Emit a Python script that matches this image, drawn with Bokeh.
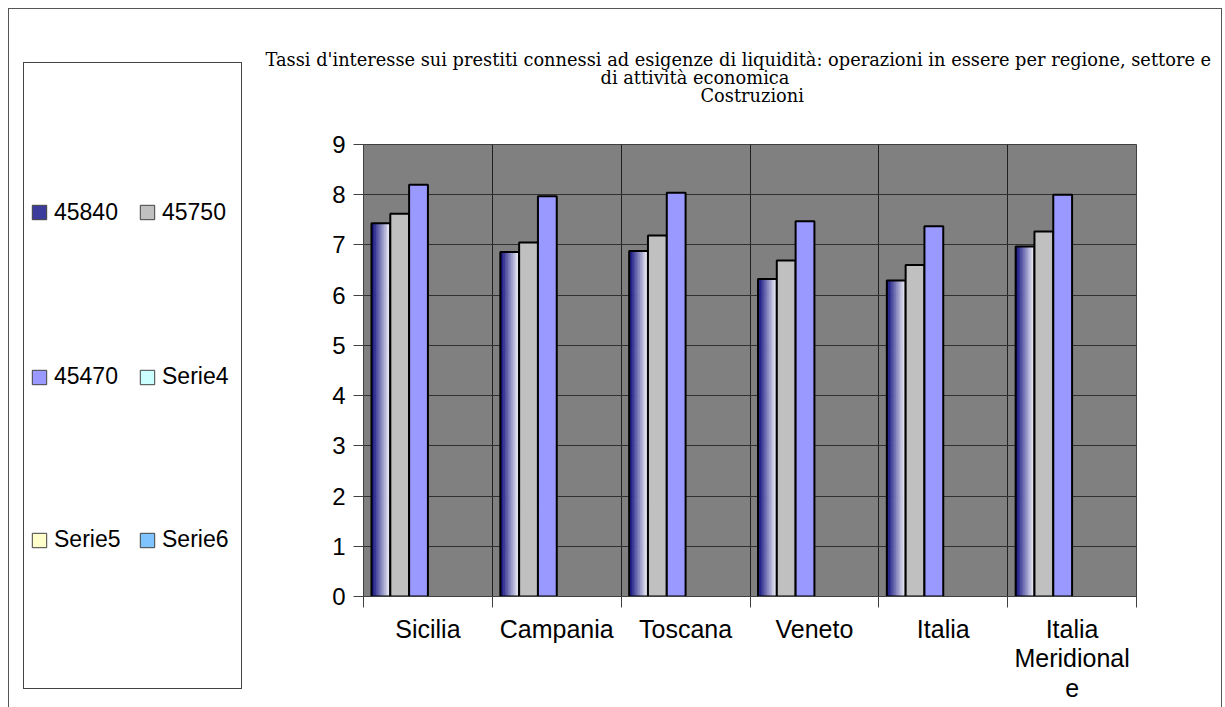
from bokeh.plotting import figure
from bokeh.layouts import row
from bokeh.models import (ColumnDataSource, Range1d, FixedTicker, Legend, LegendItem,
                          Title, InlineStyleSheet)
from bokeh.transform import dodge
from bokeh.embed import file_html
from bokeh.resources import INLINE

# ---- data ----
categories = ["Sicilia", "Campania", "Toscana", "Veneto", "Italia", "Italia Meridionale"]
tick_labels = ["Sicilia", "Campania", "Toscana", "Veneto", "Italia", "Italia\nMeridional\ne"]
series_names = ["45840", "45750", "45470", "Serie4", "Serie5", "Serie6"]
s_45840 = [7.43, 6.86, 6.88, 6.32, 6.29, 6.97]
s_45750 = [7.62, 7.05, 7.19, 6.69, 6.60, 7.27]
s_45470 = [8.20, 7.97, 8.04, 7.47, 7.37, 8.00]
y_ticks = [0, 1, 2, 3, 4, 5, 6, 7, 8, 9]
title_lines = ["Tassi  d'interesse sui prestiti connessi ad esigenze di liquidità: operazioni in essere per regione, settore e",
               "di attività economica",
               "Costruzioni"]

idx = list(range(len(categories)))
src = ColumnDataSource(dict(x=idx, s1=s_45840, s2=s_45750, s3=s_45470))

H = 707
LW = 250          # legend column width
PW = 1225 - LW    # plot width
FRAME_LEFT = 363


def no_align(fig):
    try:
        fig.frame_align = False
    except Exception:
        pass


p = figure(width=PW, height=H, output_backend="svg", toolbar_location=None,
           x_range=Range1d(-0.5, len(categories) - 0.5), y_range=Range1d(0, 9),
           min_border_left=FRAME_LEFT - LW, min_border_right=89, min_border_top=144, min_border_bottom=111)
no_align(p)
p.background_fill_color = "#808080"
p.border_fill_color = None
p.outline_line_color = "#404040"

bw = 0.146
offs = [-0.365, -0.219, -0.073]

# gradient first series (navy -> white strips)
n_strips = 12
c0 = (0x10, 0x10, 0x80)
c1 = (0xf0, 0xf0, 0xfa)
left = offs[0] - bw / 2
sw = bw / n_strips
for k in range(n_strips):
    t = k / (n_strips - 1)
    col = "#%02x%02x%02x" % tuple(int(a + (b - a) * t) for a, b in zip(c0, c1))
    p.vbar(x=dodge("x", left + (k + 0.5) * sw, range=p.x_range), top="s1", bottom=0,
           width=sw * 1.25, source=src, fill_color=col, line_color=None)
p.vbar(x=dodge("x", offs[0], range=p.x_range), top="s1", bottom=0, width=bw, source=src,
       fill_alpha=0, line_color="black", line_width=2)
p.vbar(x=dodge("x", offs[1], range=p.x_range), top="s2", bottom=0, width=bw, source=src,
       fill_color="#c0c0c0", line_color="black", line_width=2)
p.vbar(x=dodge("x", offs[2], range=p.x_range), top="s3", bottom=0, width=bw, source=src,
       fill_color="#9999ff", line_color="black", line_width=2)

# axes
p.yaxis.ticker = FixedTicker(ticks=y_ticks)
p.yaxis.major_tick_out = 10
p.yaxis.major_tick_in = 0
p.yaxis.minor_tick_line_color = None
p.yaxis.major_label_standoff = 8
p.yaxis.major_label_text_font = "Liberation Sans"
p.yaxis.major_label_text_font_size = "24px"
p.yaxis.major_label_text_color = "black"
p.yaxis.axis_line_color = "#404040"
p.yaxis.major_tick_line_color = "#404040"

bounds = [i - 0.5 for i in range(len(categories) + 1)]
p.xaxis.ticker = FixedTicker(ticks=idx, minor_ticks=bounds)
p.xaxis.major_label_overrides = {i: lab for i, lab in zip(idx, tick_labels)}
p.xaxis.major_tick_out = 0
p.xaxis.major_tick_in = 0
p.xaxis.major_tick_line_color = None
p.xaxis.minor_tick_out = 11
p.xaxis.minor_tick_in = 0
p.xaxis.minor_tick_line_color = "#404040"
p.xaxis.major_label_standoff = 7
p.xaxis.major_label_text_font = "Liberation Sans"
p.xaxis.major_label_text_font_size = "25px"
p.xaxis.major_label_text_line_height = 1.07
p.xaxis.major_label_text_color = "black"
p.xaxis.axis_line_color = "#404040"

p.ygrid.ticker = FixedTicker(ticks=y_ticks)
p.ygrid.grid_line_color = "#303030"
p.ygrid.grid_line_width = 1
p.xgrid.grid_line_color = None
p.xgrid.minor_grid_line_color = "#202020"
p.xgrid.minor_grid_line_width = 1

# title lines: a zero-width spacer just above the frame, then the lines from the bottom up
TFONT = "17.8px"
p.title.text = ""
p.title.visible = False
spacer = Title(text="\u200b", align="left", text_font="DejaVu Serif", text_font_size=TFONT,
               text_color="black")
spacer.standoff = 18
p.add_layout(spacer, "above")


def mk_title(txt, left_px):
    t = Title(text=txt, align="left", offset=left_px - FRAME_LEFT, text_font="DejaVu Serif",
              text_font_size=TFONT, text_font_style="normal", text_color="black")
    try:
        t.standoff = -5.5
    except Exception:
        t.standoff = 0
    return t


for txt, lx in zip(reversed(title_lines), [700, 600, 265]):
    p.add_layout(mk_title(txt, lx), "above")

# ---- legend column ----
lf = figure(width=LW, height=H, output_backend="svg", toolbar_location=None,
            x_axis_type=None, y_axis_type=None, x_range=Range1d(0, 1), y_range=Range1d(0, 1),
            min_border=0, min_border_left=0, min_border_right=0, min_border_top=0, min_border_bottom=0)
no_align(lf)
lf.title.visible = False
lf.outline_line_color = None
lf.background_fill_color = None
lf.border_fill_color = None
lf.grid.grid_line_color = None

sw_colors = ["#3c3c9c", "#c0c0c0", "#9999ff", "#ccffff", "#ffffcc", "#80c4ff"]
swatch_renderers = []
for c in sw_colors:
    # legend swatch renderers (kept outside the visible range of this legend panel)
    r = lf.vbar(x=dodge("x", 100.0), top="s1", width=0.1, source=src,
                fill_color=c, line_color="#404040", line_width=1)
    swatch_renderers.append(r)

row_centers = [212.5, 377, 540]
for ri, cy in enumerate(row_centers):
    items = [LegendItem(label=series_names[2 * ri + j], renderers=[swatch_renderers[2 * ri + j]])
             for j in range(2)]
    lg = Legend(items=items, orientation="horizontal", location=(30, H - (cy + 13)),
                padding=0, margin=0, spacing=14, glyph_width=18, glyph_height=18,
                label_height=26, label_width=70, label_standoff=6,
                label_text_font="Liberation Sans", label_text_font_size="23px",
                label_text_color="black",
                border_line_color=None, background_fill_alpha=0)
    lf.add_layout(lg, "center")

css = """
:host { position: relative; }
:host::before { content: ""; position: absolute; left: 8px; top: 8px; width: 1214px; height: 699px;
  border: 1.5px solid #555; border-bottom: none; box-sizing: border-box; pointer-events: none; z-index: 5; }
:host::after { content: ""; position: absolute; left: 23px; top: 62px; width: 219px; height: 627px;
  border: 1.5px solid #444; box-sizing: border-box; pointer-events: none; z-index: 5; }
"""
lf.stylesheets = [InlineStyleSheet(css=css)]

layout = row(lf, p, spacing=0)
open("out.html", "w").write(file_html(layout, INLINE))
